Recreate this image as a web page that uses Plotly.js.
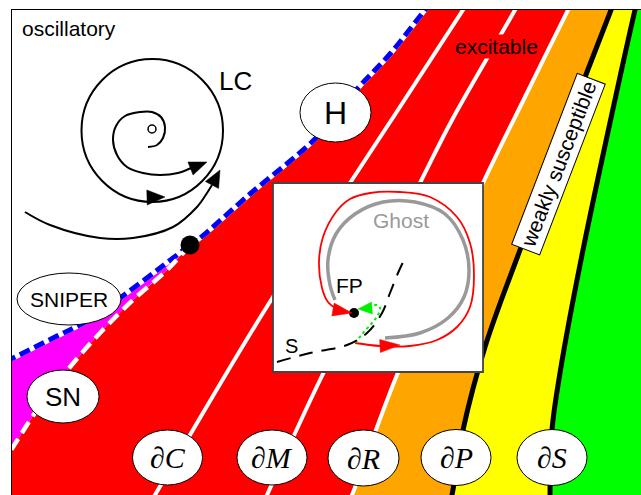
<!DOCTYPE html>
<html><head><meta charset="utf-8">
<script src="https://cdn.plot.ly/plotly-3.0.1.min.js"></script>
<style>html,body{margin:0;padding:0;background:#fff;overflow:hidden;} #chart{width:641px;height:495px;}</style>
</head><body><div id="chart"></div>
<script>
// ---------- schematic data (picture coordinates: x to the right, y downward) ----------
// Region boundaries
const hopfX   = [442, 425, 390, 358, 317, 250, 200, 190];
const hopfY   = [-10, 10, 54, 88, 137, 194, 238, 245];
const sniperX = [190, 160, 120, 85, 55, 13, -5];
const sniperY = [245, 268, 298, 322, 337, 358, 366];
const snX     = [190, 167, 133, 100, 70, 37, 13, 0];
const snY     = [245, 270, 300, 333, 367, 410, 447, 467];
const dCX = [476, 463, 350, 273, 190, 155, 143];
const dCY = [-10, 10, 183, 297, 435, 495, 515];
const dMX = [526, 515, 452, 420, 320, 267, 258];
const dMY = [-10, 10, 120, 183, 380, 495, 515];
const dRX = [578, 568, 525, 483, 397, 352, 343];
const dRY = [-10, 10, 97, 183, 375, 495, 515];
const dPX = [619, 611, 587, 520, 485, 463, 452, 447];
const dPY = [-10, 10, 72, 250, 347, 430, 495, 515];
const dSX = [640, 635, 583, 560, 552, 550, 550];
const dSY = [-10, 10, 250, 373, 430, 495, 515];
const bifPointX = [190], bifPointY = [245];

// Oscillatory sketch (limit cycle, spiral, trajectory)
const lcBoxX = [81.5, 223], lcBoxY = [59, 202];
const focusBoxX = [148, 156], focusBoxY = [125, 133];
const spiralX = [148, 157, 163, 165, 161, 152, 140, 125, 116, 113, 117, 127, 143, 160, 178, 191];
const spiralY = [147, 145, 138, 127, 117, 112, 112, 116, 126, 140, 155, 167, 173, 175, 173, 168];
const outerX  = [25, 50, 100, 133, 173, 197, 207, 212];
const outerY  = [212, 225, 238, 238, 227, 207, 193, 185];

// Inset (ghost)
const insetX = [273, 483], insetY = [183, 372];
const ghostX = [385, 420, 448, 464, 469, 463, 445, 415, 383, 355, 336, 328, 330, 335];
const ghostY = [338, 333, 318, 297, 270, 240, 214, 202, 202, 214, 234, 260, 285, 300];
const redTrajX = [355, 380, 410, 437, 457, 470, 474, 470, 457, 430, 400, 370, 350, 336, 323, 319, 322, 328, 337];
const redTrajY = [343, 346, 346, 340, 327, 307, 275, 243, 217, 197, 192, 193, 199, 212, 237, 262, 288, 302, 309];
const greenX = [355, 363, 372, 378, 380, 377, 372];
const greenY = [343, 333, 323, 315, 308, 305, 306];
const sCurveX = [277, 310, 347, 367, 382, 390, 398, 405];
const sCurveY = [362, 353, 345, 333, 313, 293, 273, 258];
const fpX = [354], fpY = [313];

// Arrowheads: tip, base centre, half width, colour
const arrowTipX  = [165, 207, 220, 400, 352, 358];
const arrowTipY  = [197, 162, 170, 345, 313, 309];
const arrowBaseX = [147, 190.5, 212, 380, 333, 372];
const arrowBaseY = [197.5, 168.5, 185, 346, 309.5, 308];
const arrowHalfW = [7.5, 7, 7.5, 6.5, 6.5, 6];
const arrowColor = ['#000', '#000', '#000', '#ff0000', '#ff0000', '#00ee00'];

// Labelled ellipses
const ellLabel = ['H', 'SNIPER', 'SN', '∂C', '∂M', '∂R', '∂P', '∂S'];
const ellCX = [335.5, 69, 63, 167.5, 272, 363.5, 456, 552];
const ellCY = [112.5, 299, 396.5, 457.5, 457.5, 458, 457.5, 457.5];
const ellRX = [35.5, 52, 36, 35, 35, 35.5, 35, 35];
const ellRY = [29.5, 26, 26.5, 27.5, 27.5, 28, 28, 28];
const ellFont = [32, 21, 26, 30, 30, 30, 30, 30];
const ellMath = [false, false, false, true, true, true, true, true];

// Free text labels
const txtLabel = ['oscillatory', 'LC', 'excitable', 'Ghost', 'FP', 'S'];
const txtX = [21, 235, 496, 401, 349, 291];
const txtY = [28, 81, 46, 220, 285, 346];
const txtSize = [21, 26, 21, 21, 21, 20];
const txtColor = ['#000', '#000', '#000', '#999', '#000', '#000'];
const txtAnchor = ['left', 'center', 'center', 'center', 'center', 'center'];
const txtBg = ['rgba(0,0,0,0)', 'rgba(0,0,0,0)', '#ff0000', 'rgba(0,0,0,0)', 'rgba(0,0,0,0)', 'rgba(0,0,0,0)'];
const weakLabel = 'weakly susceptible', weakX = 558, weakY = 164, weakAngle = -69;

// ---------- build ----------
const SANS = 'Liberation Sans, Arial, sans-serif';
const SERIF = 'Liberation Serif, Times New Roman, serif';
function line(x, y, color, width, dash, extra) {
  return Object.assign({
    type: 'scatter', mode: 'lines', x: x, y: y, hoverinfo: 'skip', showlegend: false,
    line: {color: color, width: width, dash: dash || 'solid', shape: 'spline', smoothing: 1, simplify: false}
  }, extra || {});
}
function region(x, y, fillcolor, lineColor, lineWidth) {
  return line(x, y, lineColor || 'rgba(0,0,0,0)', lineWidth || 0, 'solid', {fill: 'toself', fillcolor: fillcolor});
}
function rightRegion(bx, by) {
  const n = bx.length;
  return {x: bx.concat([bx[n - 1], 720, 720, bx[0]]), y: by.concat([600, 600, -80, -80])};
}
const rev = a => a.slice().reverse();

const redPoly = {x: hopfX.concat(snX.slice(1), [-60, -60, 720, 720, hopfX[0]]),
                 y: hopfY.concat(snY.slice(1), [540, 600, 600, -80, -80])};
const magPoly = {x: sniperX.concat([-40, -40], rev(snX).slice(0, -1)),
                 y: sniperY.concat([380, 480], rev(snY).slice(0, -1))};
const orPoly = rightRegion(dRX, dRY);
const yePoly = rightRegion(dPX, dPY);
const grPoly = rightRegion(dSX, dSY);

const traces = [
  region(redPoly.x, redPoly.y, '#ff0000'),
  region(magPoly.x, magPoly.y, '#ff00ff'),
  region(orPoly.x, orPoly.y, '#ffa500', '#ffffff', 4),
  region(yePoly.x, yePoly.y, '#ffff00', '#000000', 5),
  region(grPoly.x, grPoly.y, '#00ff00', '#000000', 5),
  line(dCX, dCY, '#ffffff', 4),
  line(dMX, dMY, '#ffffff', 4),
  line(hopfX, hopfY, '#ffffff', 5),
  line(hopfX, hopfY, '#0000ff', 5, '11px,5px'),
  line(sniperX, sniperY, '#ffffff', 5),
  line(sniperX, sniperY, '#0000ff', 5, '11px,5px'),
  line(snX, snY, '#ffffff', 4.5, '13px,7px'),
  // inset box
  {type: 'scatter', mode: 'lines', hoverinfo: 'skip', showlegend: false,
   x: [insetX[0], insetX[1], insetX[1], insetX[0], insetX[0]],
   y: [insetY[0], insetY[0], insetY[1], insetY[1], insetY[0]],
   fill: 'toself', fillcolor: '#ffffff', line: {color: '#444', width: 1.8}},
  line(ghostX, ghostY, '#999999', 3.5),
  line(redTrajX, redTrajY, '#ff0000', 1.8),
  line(greenX, greenY, '#00ee00', 2, '3px,3px'),
  line(sCurveX, sCurveY, '#000000', 2, '14px,9px'),
  {type: 'scatter', mode: 'markers', x: fpX, y: fpY, hoverinfo: 'skip', showlegend: false,
   marker: {color: '#000', size: 10}},
  {type: 'scatter', mode: 'markers', x: bifPointX, y: bifPointY, hoverinfo: 'skip', showlegend: false,
   marker: {color: '#000', size: 19}},
  line(spiralX, spiralY, '#000', 2),
  line(outerX, outerY, '#000', 2)
];

const shapes = [
  {type: 'circle', xref: 'x', yref: 'y', x0: lcBoxX[0], x1: lcBoxX[1], y0: lcBoxY[0], y1: lcBoxY[1],
   line: {color: '#000', width: 2}, layer: 'above'},
  {type: 'circle', xref: 'x', yref: 'y', x0: focusBoxX[0], x1: focusBoxX[1], y0: focusBoxY[0], y1: focusBoxY[1],
   line: {color: '#000', width: 1.5}, fillcolor: '#fff', layer: 'above'}
];
for (let i = 0; i < arrowTipX.length; i++) {
  const dx = arrowTipX[i] - arrowBaseX[i], dy = arrowTipY[i] - arrowBaseY[i];
  const L = Math.hypot(dx, dy), nx = -dy / L * arrowHalfW[i], ny = dx / L * arrowHalfW[i];
  shapes.push({type: 'path', xref: 'x', yref: 'y', layer: 'above',
    path: `M ${arrowTipX[i]},${arrowTipY[i]} L ${arrowBaseX[i] + nx},${arrowBaseY[i] + ny} L ${arrowBaseX[i] - nx},${arrowBaseY[i] - ny} Z`,
    fillcolor: arrowColor[i], line: {color: arrowColor[i], width: 0.5}});
}
const annotations = [];
for (let i = 0; i < ellLabel.length; i++) {
  shapes.push({type: 'circle', xref: 'x', yref: 'y', layer: 'above',
    x0: ellCX[i] - ellRX[i], x1: ellCX[i] + ellRX[i], y0: ellCY[i] - ellRY[i], y1: ellCY[i] + ellRY[i],
    fillcolor: '#ffffff', line: {color: '#000', width: 1}});
  annotations.push({xref: 'x', yref: 'y', x: ellCX[i], y: ellCY[i], showarrow: false,
    text: ellMath[i] ? '<i>' + ellLabel[i] + '</i>' : ellLabel[i],
    font: {family: ellMath[i] ? SERIF : SANS, size: ellFont[i], color: '#000'},
    xanchor: 'center', yanchor: 'middle'});
}
for (let i = 0; i < txtLabel.length; i++) {
  annotations.push({xref: 'x', yref: 'y', x: txtX[i], y: txtY[i], showarrow: false, text: txtLabel[i],
    font: {family: SANS, size: txtSize[i], color: txtColor[i]}, bgcolor: txtBg[i], borderpad: 0,
    xanchor: txtAnchor[i], yanchor: 'middle'});
}
annotations.push({xref: 'x', yref: 'y', x: weakX, y: weakY, showarrow: false, text: weakLabel,
  textangle: weakAngle, font: {family: SANS, size: 21, color: '#000'},
  bgcolor: '#ffffff', bordercolor: '#000', borderwidth: 1, borderpad: 3});

const layout = {
  width: 641, height: 495, margin: {l: 12, r: 0, t: 10, b: 0, pad: 0},
  paper_bgcolor: '#ffffff', plot_bgcolor: '#ffffff', showlegend: false,
  xaxis: {range: [12, 641], showgrid: false, zeroline: false, showticklabels: false, ticks: '',
          showline: true, side: 'top', linecolor: '#000', linewidth: 1.5, fixedrange: true},
  yaxis: {range: [495, 10], showgrid: false, zeroline: false, showticklabels: false, ticks: '',
          showline: true, side: 'left', linecolor: '#000', linewidth: 1.5, fixedrange: true},
  shapes: shapes, annotations: annotations
};
Plotly.newPlot('chart', traces, layout, {staticPlot: true, displayModeBar: false});
</script></body></html>
